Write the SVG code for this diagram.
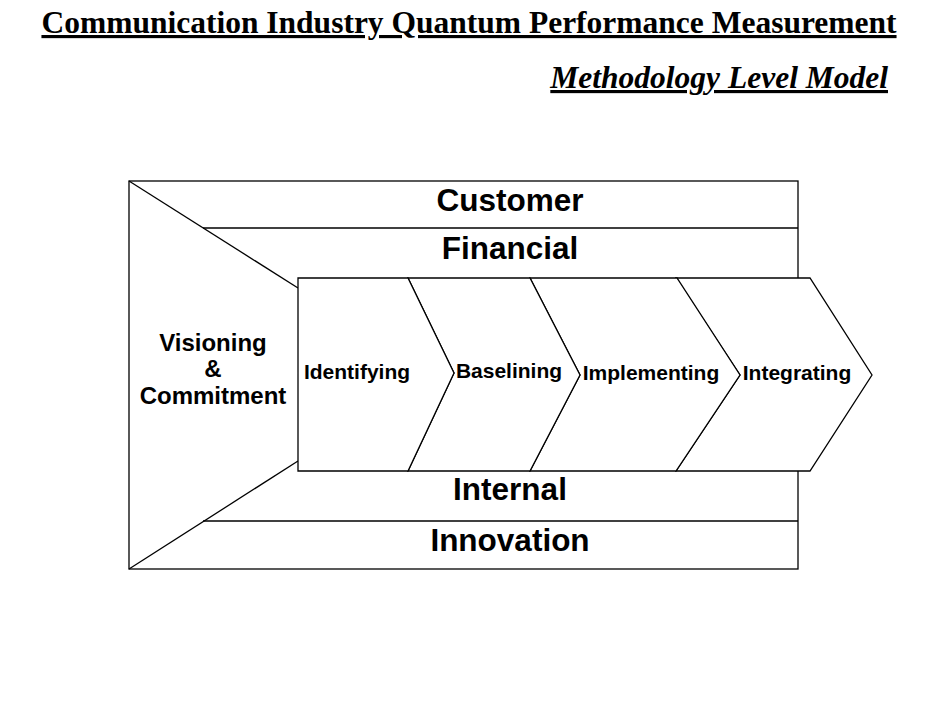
<svg xmlns="http://www.w3.org/2000/svg" width="950" height="713" viewBox="0 0 950 713">
<style>
.ln{fill:none;stroke:#000;stroke-width:1.3}
.ch{fill:#fff;stroke:#000;stroke-width:1.3}
.t{font-family:"Liberation Serif",serif;font-weight:bold;text-decoration:underline;font-size:31.5px}
.b{font-family:"Liberation Sans",Arial,sans-serif;font-weight:bold;text-anchor:middle}
.l{font-size:31.5px}.m{font-size:24px}.s{font-size:21px}
</style>
<rect width="950" height="713" fill="#fff"/>
<text class="t" x="469" y="33" text-anchor="middle">Communication Industry Quantum Performance Measurement</text>
<text class="t" x="888" y="88" text-anchor="end" font-style="italic">Methodology Level Model</text>
<g id="frame">
<rect class="ln" x="129" y="181" width="669" height="388"/>
<line class="ln" x1="203" y1="228" x2="798" y2="228"/>
<line class="ln" x1="203" y1="521" x2="798" y2="521"/>
<line class="ln" x1="129" y1="181" x2="298" y2="288"/>
<line class="ln" x1="129" y1="569" x2="298" y2="461"/>
</g>
<g id="customer"><text class="b l" x="510" y="211">Customer</text></g>
<g id="financial"><text class="b l" x="510" y="259">Financial</text></g>
<g id="internal"><text class="b l" x="510" y="500">Internal</text></g>
<g id="innovation"><text class="b l" x="510" y="551">Innovation</text></g>
<g id="visioning"><text class="b m" x="213" y="351">Visioning</text><text class="b m" x="213" y="377">&amp;</text><text class="b m" x="213" y="404">Commitment</text></g>
<g id="integrating"><polygon class="ch" points="676,278 810,278 872,375 810,471 676,471 740,375"/><text class="b s" x="797" y="380">Integrating</text></g>
<g id="implementing"><polygon class="ch" points="530,278 677,278 740,375 676,471 530,471 580,375"/><text class="b s" x="651" y="380">Implementing</text></g>
<g id="baselining"><polygon class="ch" points="408,278 530,278 580,375 530,471 408,471 454,373"/><text class="b s" x="509" y="378">Baselining</text></g>
<g id="identifying"><polygon class="ch" points="298,278 408,278 454,373 408,471 298,471"/><text class="b s" x="357" y="379">Identifying</text></g>
</svg>
